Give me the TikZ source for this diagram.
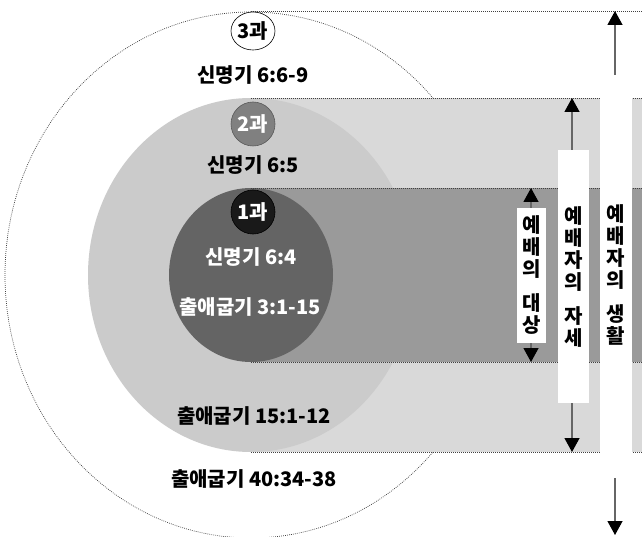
\documentclass[tikz,border=0pt]{standalone}
\usepackage{fontspec}
\setmainfont{Noto Sans CJK KR}
\usetikzlibrary{arrows.meta, shapes.geometric}
\definecolor{ringlight}{HTML}{CBCBCB}
\definecolor{bandlight}{HTML}{D9D9D9}
\definecolor{ringdark}{HTML}{646464}
\definecolor{banddark}{HTML}{9A9A9A}
\definecolor{tagmid}{HTML}{808080}

\begin{document}
\begin{tikzpicture}[x=1pt, y=-1pt,
  dotline/.style={draw=black!75, line width=0.7pt, dash pattern=on 0.8pt off 1.2pt},
  tag/.style={ellipse, draw, line width=0.6pt, minimum width=44pt, minimum height=44pt,
              inner sep=0pt, font=\bfseries\fontsize{20}{22}\selectfont},
  ref/.style={inner sep=0pt, font=\bfseries\fontsize{20}{22}\selectfont},
  vtext/.style={align=center, inner sep=0pt, fill=white, font=\bfseries\fontsize{20}{22}\selectfont},
  arr/.style={-{Triangle[length=14pt, width=15pt, color=black]}, draw=black!60, line width=1.3pt},
  darr/.style={{Triangle[length=14pt, width=15pt, color=black]}-{Triangle[length=14pt, width=15pt, color=black]},
               draw=black!60, line width=1.3pt},
]
\useasboundingbox (0,0) rectangle (642,537);

% outer ring
\draw[dotline, fill=white] (251,275) ellipse [x radius=246pt, y radius=263pt];
\draw[dotline] (251,11) -- (642,11);

% middle ring and its band
\fill[bandlight] (251,98) rectangle (642,452);
\fill[ringlight] (251,275) ellipse [x radius=163pt, y radius=177pt];
\draw[dotline] (251,98) -- (642,98) (251,452) -- (642,452);

% inner ring and its band
\fill[banddark] (251,188) rectangle (642,362);
\fill[ringdark] (251,275) ellipse [x radius=82pt, y radius=87pt];
\draw[dotline] (251,188) -- (642,188) (251,362) -- (642,362);

% lessons
\node[tag, fill=white, minimum height=38pt] (t3) at (253,31) {3과};
\node[ref] (r3) at (253,75) {신명기 6:6-9};
\node[tag, fill=tagmid, draw=black!65, text=white] (t2) at (253,124) {2과};
\node[ref] (r2) at (253,165) {신명기 6:5};
\node[tag, fill=black!90, text=white] (t1) at (253,212) {1과};
\node[ref, text=white] (r1a) at (251,257) {신명기 6:4};
\node[ref, text=white] (r1b) at (250,307) {출애굽기 3:1-15};
\node[ref] (r2b) at (254,416) {출애굽기 15:1-12};
\node[ref] (r3b) at (254,479) {출애굽기 40:34-38};

% arrows
\coordinate (lifetop) at (615,11);
\coordinate (lifeup) at (615,75);
\coordinate (lifedown) at (615,478);
\coordinate (lifebot) at (615,535);
\coordinate (posetop) at (572,98);
\coordinate (posebot) at (572,452);
\coordinate (objtop) at (531,188);
\coordinate (objbot) at (531,362);
\draw[arr] (lifeup) -- (lifetop);
\draw[arr] (lifedown) -- (lifebot);
\draw[darr] (posetop) -- (posebot);
\draw[darr] (objtop) -- (objbot);

% column labels
\node[vtext, minimum width=29pt, minimum height=135pt] (obj) at (531.5,275.5) {예\\배\\의\\[12pt]대\\상};
\node[vtext, minimum width=31pt, minimum height=253pt] (pose) at (573.5,276.5) {예\\배\\자\\의\\[12pt]자\\세};
\node[vtext, minimum width=32pt, minimum height=356pt] (life) at (616,275) {예\\배\\자\\의\\[12pt]생\\활};
\end{tikzpicture}
\end{document}
